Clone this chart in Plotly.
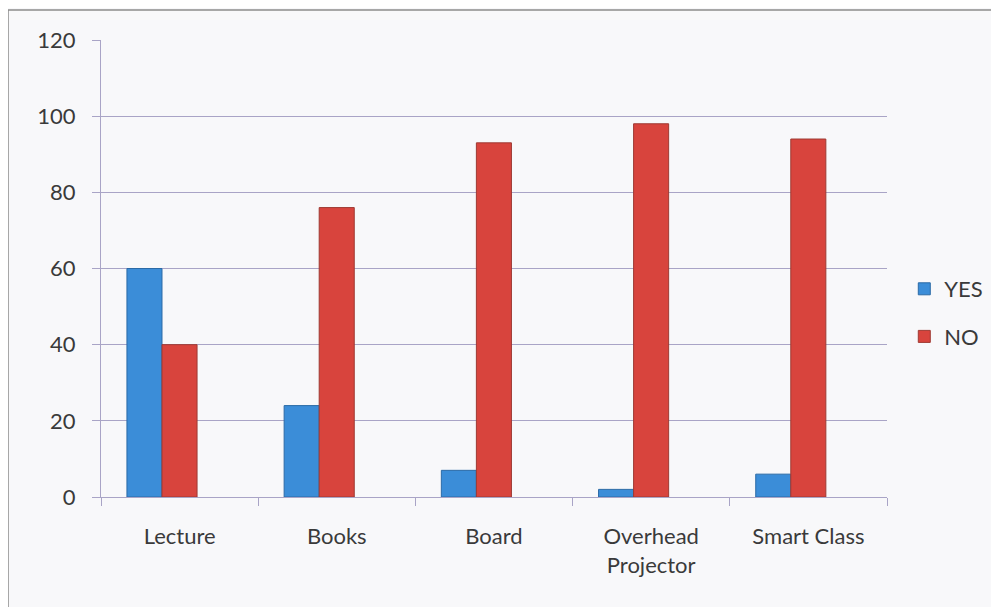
import plotly.graph_objects as go

categories = ["Lecture", "Books", "Board", "Overhead<br>Projector", "Smart Class"]
yes_values = [60, 24, 7, 2, 6]
no_values = [40, 76, 93, 98, 94]
y_ticks = [0, 20, 40, 60, 80, 100, 120]

font_family = "Lato, 'Open Sans', sans-serif"
text_color = "#3a3a3a"
grid_color = "#a9a4c6"
bg = "#f8f8fa"

# figure sits at (8, 8) in the page because of the default body margin
W, H = 991, 599
L, R, T, B = 93, 112, 32, 110
PW, PH = W - L - R, H - T - B

fig = go.Figure()
fig.add_trace(go.Bar(
    name="YES", x=categories, y=yes_values, legendgroup="yes",
    width=0.223, offset=-0.335,
    marker=dict(color="#3b8dd8", line=dict(color="#2b6aa6", width=1)),
))
fig.add_trace(go.Bar(
    name="NO", x=categories, y=no_values, legendgroup="no",
    width=0.223, offset=-0.112,
    marker=dict(color="#d8443d", line=dict(color="#9e3a33", width=1)),
))

fig.update_layout(
    width=W, height=H,
    margin=dict(l=L, r=R, t=T, b=B, autoexpand=False),
    paper_bgcolor=bg,
    plot_bgcolor=bg,
    barmode="overlay",
    font=dict(family=font_family, size=22, color=text_color),
    legend=dict(
        x=1.022, y=(489 - 305) / PH, xanchor="left", yanchor="middle",
        font=dict(size=22, color=text_color),
        tracegroupgap=16,
        bgcolor="rgba(0,0,0,0)",
    ),
    showlegend=True,
)
fig.update_yaxes(
    range=[0, 120], tickvals=y_ticks,
    showgrid=True, gridcolor=grid_color, gridwidth=1,
    showline=True, linecolor=grid_color, linewidth=1,
    ticks="outside", ticklen=8, tickcolor=grid_color,
    zeroline=False, ticklabelstandoff=12,
)
fig.update_xaxes(
    showline=True, linecolor=grid_color, linewidth=1,
    ticks="outside", ticklen=8, tickcolor=grid_color,
    tickson="boundaries", showgrid=False,
    ticklabelstandoff=20,
)
fig.add_shape(
    type="rect", xref="paper", yref="paper",
    x0=(0 - L) / PW, x1=(1010 - L) / PW,
    y0=(489 - 640) / PH, y1=(489 - 2) / PH,
    line=dict(color="#8c8c8c", width=1.5), fillcolor="rgba(0,0,0,0)",
    layer="below",
)

fig.write_html("out.html")
